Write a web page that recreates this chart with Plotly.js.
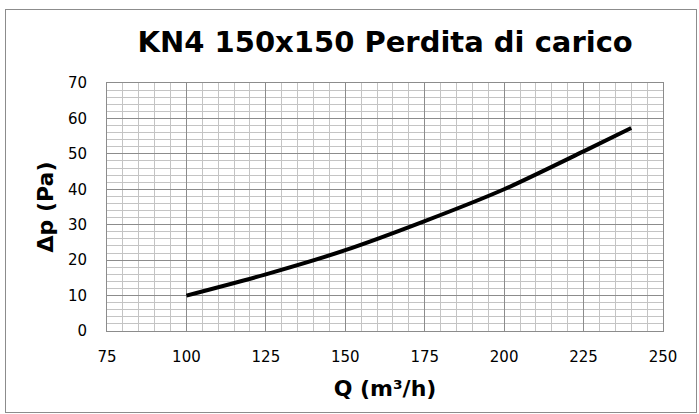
<!DOCTYPE html>
<html>
<head>
<meta charset="utf-8">
<script src="https://cdn.plot.ly/plotly-3.0.1.min.js"></script>
<style>
  html, body { margin: 0; padding: 0; background: #fff; }
  #wrap { position: relative; width: 699px; height: 414px; }
  #chart { width: 699px; height: 414px; }
  #frame { position: absolute; left: 5px; top: 9px; width: 692px; height: 404px;
           border: 1px solid #8c8c8c; pointer-events: none; box-sizing: border-box; }
</style>
</head>
<body>
<div id="wrap">
  <div id="chart"></div>
  <div id="frame"></div>
</div>
<script>
// Data
const flowQ = [100, 125, 150, 175, 200, 225, 240];          // Q (m³/h)
const pressureDrop = [10, 16, 22.8, 31, 40, 50.7, 57.3];     // Δp (Pa)

const chartTitle = 'KN4 150x150 Perdita di carico';
const xTitle = 'Q (m³/h)';
const yTitle = 'Δp (Pa)';
const xTicks = [75, 100, 125, 150, 175, 200, 225, 250];
const yTicks = [0, 10, 20, 30, 40, 50, 60, 70];

const trace = {
  x: flowQ,
  y: pressureDrop,
  type: 'scatter',
  mode: 'lines',
  line: { color: '#000000', width: 4, shape: 'spline', smoothing: 0.8 },
  hoverinfo: 'skip'
};

const tickFont = { family: 'DejaVu Sans', size: 15, color: '#000' };
const titleFont = { family: 'DejaVu Sans', size: 22, color: '#000' };

const layout = {
  width: 699,
  height: 414,
  paper_bgcolor: '#ffffff',
  plot_bgcolor: '#ffffff',
  showlegend: false,
  margin: { l: 107, r: 36, t: 83, b: 83 },
  title: {
    text: '<b>' + chartTitle + '</b>',
    font: { family: 'DejaVu Sans', size: 29, color: '#000' },
    x: 0.551, xanchor: 'center', xref: 'container',
    y: 0.9, yanchor: 'middle', yref: 'container'
  },
  xaxis: {
    range: [75, 250],
    tickvals: xTicks,
    ticktext: xTicks.map(String),
    tickfont: tickFont,
    ticks: '',
    ticklabelstandoff: 12,
    showgrid: true,
    gridcolor: '#8c8c8c',
    gridwidth: 1,
    minor: { dtick: 5, showgrid: true, gridcolor: '#c4c4c4', gridwidth: 1, ticks: '' },
    showline: true, linecolor: '#8c8c8c', linewidth: 1, mirror: true,
    zeroline: false,
    fixedrange: true,
    title: { text: '<b>' + xTitle + '</b>', font: titleFont, standoff: 15 }
  },
  yaxis: {
    range: [0, 70],
    tickvals: yTicks,
    ticktext: yTicks.map(String),
    tickfont: tickFont,
    ticks: '',
    ticklabelstandoff: 16,
    showgrid: true,
    gridcolor: '#8c8c8c',
    gridwidth: 1,
    minor: { dtick: 2, showgrid: true, gridcolor: '#c4c4c4', gridwidth: 1, ticks: '' },
    showline: true, linecolor: '#8c8c8c', linewidth: 1, mirror: true,
    zeroline: false,
    fixedrange: true,
    title: { text: '<b>' + yTitle + '</b>', font: titleFont, standoff: 8 }
  }
};

Plotly.newPlot('chart', [trace], layout, { staticPlot: true, displayModeBar: false });
</script>
</body>
</html>
